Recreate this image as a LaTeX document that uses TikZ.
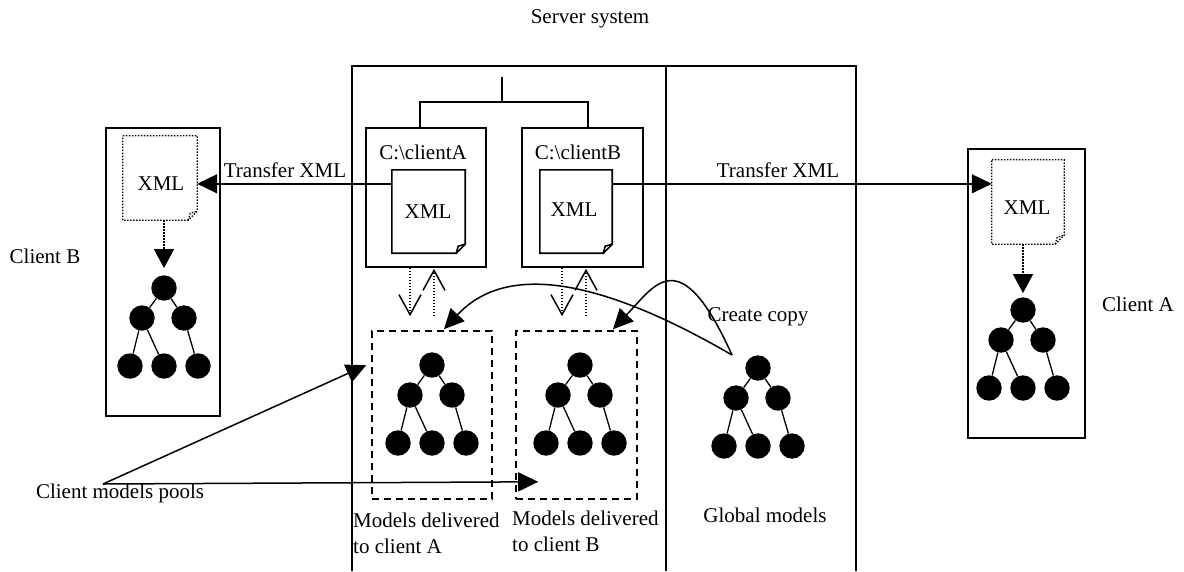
\documentclass[tikz,border=0pt]{standalone}
\usepackage{fontspec}
\setmainfont{Liberation Serif}
\usetikzlibrary{arrows.meta,calc}

% folded-corner document outline around an (empty) node
\newcommand\docoutline[3][]{%
  \draw[#1] (#2.north west) -- (#2.north east) -- ($(#2.south east)+(0,-#3)$)
    -- ($(#2.south east)+(-#3,0)$) -- (#2.south west) -- cycle;
  \draw[#1] ($(#2.south east)+(-#3,0)$) -- ($(#2.south east)+(-#3+2,-#3+2)$)
    -- ($(#2.south east)+(0,-#3)$);
}

% small model tree: root plus two children and three leaves
\newcommand\modeltree[2]{%
  \node[ball] (#1r) at (#2) {};
  \node[ball] (#1a) at ($(#1r)+(-22,30)$) {};
  \node[ball] (#1b) at ($(#1r)+(20,30)$) {};
  \node[ball] (#1c) at ($(#1r)+(-34,78)$) {};
  \node[ball] (#1d) at ($(#1r)+(0,78)$) {};
  \node[ball] (#1e) at ($(#1r)+(34,78)$) {};
  \draw[edge] (#1r) -- (#1a) (#1r) -- (#1b) (#1a) -- (#1c) (#1a) -- (#1d) (#1b) -- (#1e);
}

\begin{document}
\begin{tikzpicture}[x=1pt,y=-1pt,
  every node/.style={font=\fontsize{21}{26}\selectfont, inner sep=0pt},
  frame/.style={line width=1.6pt},
  box/.style={draw, line width=1.6pt, minimum width=#1},
  docbox/.style={minimum width=73pt, minimum height=83pt},
  pool/.style={draw, line width=1.6pt, dash pattern=on 7pt off 5pt, minimum height=168pt},
  ball/.style={circle, fill=black, minimum size=25.4pt},
  edge/.style={line width=1.3pt},
  dots/.style={line width=1.3pt, dash pattern=on 1.5pt off 1.5pt},
  arrtri/.style={line width=1.5pt, -{Triangle[length=20pt,width=19pt]}},
  barb/.style={dots, -{Straight Barb[length=20pt,width=22pt,line width=1.5pt]}}
]
\useasboundingbox (0,0) rectangle (1184,571);

% ---------- server system ----------
\node (srvlabel) at (590,19) {Server system};
\draw[frame] (352,571) -- (352,66) -- (856,66) -- (856,571);
\draw[frame] (666,66) -- (666,571);

% folders with their XML files
\node[box=120pt, minimum height=139pt] (boxA) at (426,197.5) {};
\node[box=121pt, minimum height=139pt] (boxB) at (582.5,197.5) {};
\node (lblA) at (423,152) {C:\textbackslash clientA};
\node (lblB) at (578,152) {C:\textbackslash clientB};
\node[docbox] (docA) at (428.5,211.5) {};
\node[docbox, minimum width=72pt] (docB) at (576,211.5) {};
\docoutline[frame]{docA}{9}
\docoutline[frame]{docB}{9}
\node (xmlA) at (428,212) {XML};
\node (xmlB) at (574,210) {XML};

% directory tree joining the two folders
\coordinate (root) at (502,77);
\coordinate (fork) at (502,102);
\draw[frame] (root) -- (fork);
\draw[frame] ($(boxA.north)+(-6,0)$) |- (fork) -| ($(boxB.north)+(5.5,0)$);

% client model pools
\node[pool, minimum width=120pt] (poolA) at (432,415) {};
\node[pool, minimum width=121pt] (poolB) at (576.5,415) {};
\modeltree{pa}{432,365}
\modeltree{pb}{580,365}
\node[align=left, anchor=west] (capA) at (353,533) {Models delivered\\to client A};
\node[align=left, anchor=west] (capB) at (512,531) {Models delivered\\to client B};

% folder <-> pool exchange
\draw[barb] ($(boxA.south)+(-16,0)$) -- ($(poolA.north)+(-22,-14)$);
\draw[barb] ($(poolA.north)+(2,-14)$) -- ($(boxA.south)+(8,1)$);
\draw[barb] ($(boxB.south)+(-20.5,0)$) -- ($(poolB.north)+(-14.5,-14)$);
\draw[barb] ($(poolB.north)+(9.5,-14)$) -- ($(boxB.south)+(3.5,1)$);

% global models
\modeltree{g}{758,368}
\node (glob) at (765,515) {Global models};
\node (copy) at (758,317) {Create copy};
\coordinate (cc) at ($(gr)+(-26,-13)$);
\draw[arrtri] (cc) .. controls (560,255) and (490,280) .. ($(poolA.north)+(12,-1)$);
\draw[arrtri] (cc) .. controls (680,240) and (655,285) .. ($(poolB.north)+(36.5,-1)$);

% ---------- client B ----------
\node[box=114pt, minimum height=288pt] (cbbox) at (163,272) {};
\node[docbox, minimum width=74pt, minimum height=84pt] (cbdoc) at (160,178) {};
\docoutline[dots]{cbdoc}{9}
\node (cbxml) at (161,184) {XML};
\modeltree{cb}{164,288}
\draw[dots, -{Triangle[length=19pt,width=20pt]}, shorten >=7pt] (cbr |- cbdoc.south) -- (cbr);
\node (cblabel) at (45,256) {Client B};

% ---------- client A ----------
\node[box=117pt, minimum height=289pt] (cabox) at (1026.5,293.5) {};
\node[docbox, minimum width=72pt, minimum height=84pt] (cadoc) at (1028,202) {};
\docoutline[dots]{cadoc}{9}
\node (caxml) at (1027,208) {XML};
\modeltree{ca}{1023,310}
\draw[dots, -{Triangle[length=19pt,width=20pt]}, shorten >=4pt] (car |- cadoc.south) -- (car);
\node (calabel) at (1138,304) {Client A};

% ---------- XML transfers ----------
\draw[arrtri] ($(docA.north west)+(0,14)$) -- ($(cbdoc.north east)+(0,48)$);
\node (trB) at (285,170) {Transfer XML};
\draw[arrtri] ($(docB.north east)+(0,14)$) -- ($(cadoc.north west)+(0,24)$);
\node (trA) at (778,170) {Transfer XML};

% ---------- pools callout ----------
\node (cmp) at (120,493) {Client models pools};
\coordinate (apex) at (103,484);
\draw[arrtri] (apex) -- ($(poolA.north west)+(-5,35)$);
\draw[arrtri] (apex) -- ($(poolB.south west)+(23,-18)$);
\end{tikzpicture}
\end{document}
